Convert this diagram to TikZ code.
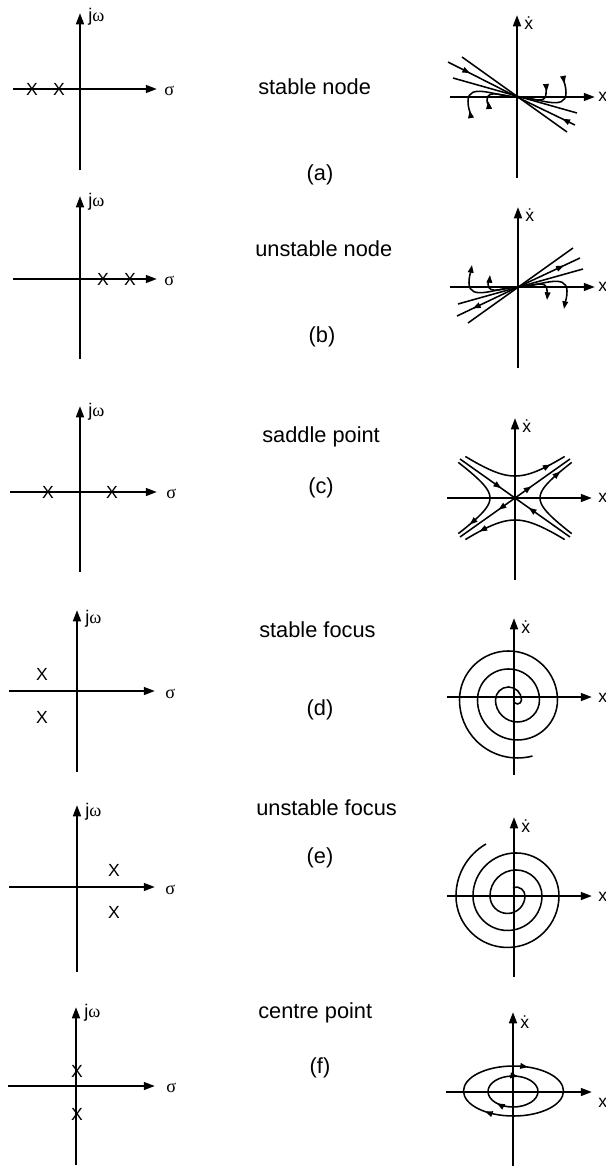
\documentclass[tikz,border=0pt]{standalone}
\usepackage{fontspec}
\setmainfont{Liberation Sans}
\newfontfamily\greekfont{Liberation Serif}
\usetikzlibrary{arrows.meta,decorations.markings}
\newcommand{\jw}{j{\greekfont ω}}
\newcommand{\sg}{{\greekfont σ}}
\tikzset{
  axisline/.style={line width=1.6pt,-{Triangle[length=8pt,width=5.5pt]}},
  traj/.style={line width=1.1pt},
  outtip/.style={-{Triangle[length=5.5pt,width=4pt]}},
  intip/.style={{Triangle[reversed,length=5.5pt,width=4pt]}-},
  flow/.style={postaction={decorate,decoration={markings,mark=at position #1 with {\arrow{Triangle[length=5.5pt,width=4pt]}}}}},
  title/.style={anchor=west,inner sep=0pt,font=\fontsize{15.5}{18}\selectfont},
  sublabel/.style={inner sep=0pt,font=\fontsize{15.5}{18}\selectfont},
  axlabel/.style={anchor=west,inner sep=0pt,font=\fontsize{13}{15}\selectfont},
  pole/.style={inner sep=0pt,font=\fontsize{12.5}{14}\selectfont},
}

\begin{document}
\begin{tikzpicture}[x=0.025cm,y=0.025cm]
\useasboundingbox (0,0) rectangle (606,-1166);

% titles and sub-figure letters
\node[title] (titleA) at (258,-87) {stable node};
\node[sublabel] (labA) at (320,-175) {(a)};
\node[title] (titleB) at (255,-249) {unstable node};
\node[sublabel] (labB) at (322,-337) {(b)};
\node[title] (titleC) at (262,-437) {saddle point};
\node[sublabel] (labC) at (321,-488) {(c)};
\node[title] (titleD) at (259,-630) {stable focus};
\node[sublabel] (labD) at (320,-710) {(d)};
\node[title] (titleE) at (256,-808) {unstable focus};
\node[sublabel] (labE) at (320,-858) {(e)};
\node[title] (titleF) at (258,-1013) {centre point};
\node[sublabel] (labF) at (320,-1068) {(f)};

% (a) s-plane
\begin{scope}[shift={(80,-89)}]
\draw[axisline] (-67,0) -- (77,0);
\draw[axisline] (0,-81) -- (0,76);
\node[axlabel] (jwA) at (8,72) {\jw};
\node[axlabel] (sgA) at (84,-2) {\sg};
\node[pole] (pA1) at (-48,0) {X};
\node[pole] (pA2) at (-21,0) {X};
\end{scope}
% (a) phase plane
\begin{scope}[shift={(517,-97)}]
\draw[axisline] (-67,0) -- (78,0);
\draw[axisline] (0,-81) -- (0,82);
\node[axlabel,font=\fontsize{12.5}{14}\selectfont] (xdA) at (7,74) {\.x};
\node[axlabel,font=\fontsize{12.5}{14}\selectfont] (xA) at (81,0) {x};
\draw[traj] (-55,40) -- (50,-35);
\draw[traj] (-64,19) -- (60,-16);
\draw[traj,flow=0.32] (-69,35) -- (0,0);
\draw[traj,flow=0.22] (58,-28) -- (0,0);
\draw[traj,intip] (46,21) to[out=-80,in=90] (49,4) to[out=-90,in=0] (0,0);
\draw[traj,intip] (29,13) to[out=-85,in=90] (29,3) to[out=-90,in=0] (0,0);
\draw[traj,intip] (-46,-21) to[out=100,in=-90] (-49,-4) to[out=90,in=180] (0,0);
\draw[traj,intip] (-28,-12) to[out=95,in=-90] (-30,-3) to[out=90,in=180] (0,0);
\end{scope}

% (b) s-plane
\begin{scope}[shift={(80,-279)}]
\draw[axisline] (-67,0) -- (77,0);
\draw[axisline] (0,-80) -- (0,83);
\node[axlabel] (jwB) at (8,77) {\jw};
\node[axlabel] (sgB) at (84,-2) {\sg};
\node[pole] (pB1) at (23,0) {X};
\node[pole] (pB2) at (50,0) {X};
\end{scope}
% (b) phase plane
\begin{scope}[shift={(518,-287)}]
\draw[axisline] (-68,0) -- (77,0);
\draw[axisline] (0,-81) -- (0,80);
\node[axlabel,font=\fontsize{12.5}{14}\selectfont] (xdB) at (7,72) {\.x};
\node[axlabel,font=\fontsize{12.5}{14}\selectfont] (xB) at (80,0) {x};
\draw[traj] (-50,-36) -- (55,39);
\draw[traj] (-60,-17) -- (65,18);
\draw[traj,flow=0.74] (0,0) -- (62,29);
\draw[traj,flow=0.74] (0,0) -- (-61,-29);
\draw[traj,outtip] (0,0) to[out=0,in=90] (49,-4) to[out=-90,in=80] (46,-22);
\draw[traj,outtip] (0,0) to[out=0,in=90] (29,-3) to[out=-90,in=85] (29,-13);
\draw[traj,outtip] (0,0) to[out=180,in=-90] (-49,4) to[out=90,in=-100] (-46,22);
\draw[traj,outtip] (0,0) to[out=180,in=-90] (-30,3) to[out=90,in=-95] (-28,12);
\end{scope}

% (c) s-plane
\begin{scope}[shift={(80,-492)}]
\draw[axisline] (-70,0) -- (77,0);
\draw[axisline] (0,-80) -- (0,86);
\node[axlabel] (jwC) at (8,80) {\jw};
\node[axlabel] (sgC) at (86,-2) {\sg};
\node[pole] (pC1) at (-32,0) {X};
\node[pole] (pC2) at (32,0) {X};
\end{scope}
% (c) phase plane
\begin{scope}[shift={(515,-498)}]
\draw[axisline] (-68,0) -- (77,0);
\draw[axisline] (0,-82) -- (0,80);
\node[axlabel,font=\fontsize{12.5}{14}\selectfont] (xdC) at (7,72) {\.x};
\node[axlabel,font=\fontsize{12.5}{14}\selectfont] (xC) at (83,0) {x};
\draw[traj,flow=0.75] (-55,39) -- (0,0);
\draw[traj,flow=0.75] (55,-39) -- (0,0);
\draw[traj,flow=0.3] (0,0) -- (55,39);
\draw[traj,flow=0.3] (0,0) -- (-55,-39);
\draw[traj,flow=0.85] plot[domain=-1.25:1.25,samples=40] ({31*sinh(\x)},{22*cosh(\x)});
\draw[traj,flow=0.85] plot[domain=1.25:-1.25,samples=40] ({31*sinh(\x)},{-22*cosh(\x)});
\draw[traj,flow=0.85] plot[domain=-1.46:1.46,samples=40] ({25*cosh(\x)},{17.5*sinh(\x)});
\draw[traj,flow=0.85] plot[domain=1.46:-1.46,samples=40] ({-25*cosh(\x)},{17.5*sinh(\x)});
\end{scope}

% (d) s-plane
\begin{scope}[shift={(77,-691)}]
\draw[axisline] (-68,0) -- (78,0);
\draw[axisline] (0,-81) -- (0,81);
\node[axlabel] (jwD) at (8,72) {\jw};
\node[axlabel] (sgD) at (88,-3) {\sg};
\node[pole] (pD1) at (-35,17) {X};
\node[pole] (pD2) at (-35,-26) {X};
\end{scope}
% (d) phase plane
\begin{scope}[shift={(514,-697)}]
\draw[axisline] (-67,0) -- (78,0);
\draw[axisline] (0,-78) -- (0,79);
\node[axlabel,font=\fontsize{12.5}{14}\selectfont] (xdD) at (7,70) {\.x};
\node[axlabel,font=\fontsize{12.5}{14}\selectfont] (xD) at (84,-1) {x};
\draw[traj] (18.5,-59) arc[start angle=-75,end angle=-180,radius=58]
  arc[start angle=180,end angle=0,radius=49]
  arc[start angle=0,end angle=-180,radius=40]
  arc[start angle=180,end angle=0,radius=31]
  arc[start angle=0,end angle=-180,radius=22]
  arc[start angle=180,end angle=0,radius=13]
  arc[start angle=0,end angle=-180,radius=4];
\end{scope}

% (e) s-plane
\begin{scope}[shift={(77,-887)}]
\draw[axisline] (-68,0) -- (78,0);
\draw[axisline] (0,-85) -- (0,82);
\node[axlabel] (jwE) at (8,75) {\jw};
\node[axlabel] (sgE) at (88,-3) {\sg};
\node[pole] (pE1) at (37,17) {X};
\node[pole] (pE2) at (37,-25) {X};
\end{scope}
% (e) phase plane
\begin{scope}[shift={(514,-896)}]
\draw[axisline] (-67,0) -- (78,0);
\draw[axisline] (0,-81) -- (0,79);
\node[axlabel,font=\fontsize{12.5}{14}\selectfont] (xdE) at (7,70) {\.x};
\node[axlabel,font=\fontsize{12.5}{14}\selectfont] (xE) at (84,-1) {x};
\draw[traj] (-1.1,8.5) arc[start angle=110,end angle=0,radius=9]
  arc[start angle=0,end angle=-180,radius=17.5]
  arc[start angle=180,end angle=0,radius=26]
  arc[start angle=0,end angle=-180,radius=34.5]
  arc[start angle=180,end angle=0,radius=43]
  arc[start angle=0,end angle=-180,radius=51.5]
  arc[start angle=180,end angle=120,radius=60];
\end{scope}

% (f) s-plane
\begin{scope}[shift={(76,-1086)}]
\draw[axisline] (-68,0) -- (79,0);
\draw[axisline] (0,-79) -- (0,79);
\node[axlabel] (jwF) at (8,73) {\jw};
\node[axlabel] (sgF) at (90,-2) {\sg};
\node[pole] (pF1) at (1,15) {X};
\node[pole] (pF2) at (1,-28) {X};
\end{scope}
% (f) phase plane
\begin{scope}[shift={(513,-1092)}]
\draw[axisline] (-67,0) -- (79,0);
\draw[axisline] (0,-74) -- (0,80);
\node[axlabel,font=\fontsize{12.5}{14}\selectfont] (xdF) at (7,70) {\.x};
\node[axlabel,font=\fontsize{12.5}{14}\selectfont] (xF) at (85,-11) {x};
\draw[traj,flow=0.31,flow=0.87] (-49.5,1) arc[start angle=180,end angle=-180,x radius=50,y radius=25];
\draw[traj,flow=0.29,flow=0.88] (-25,0.5) arc[start angle=180,end angle=-180,x radius=25,y radius=15.5];
\end{scope}
\end{tikzpicture}
\end{document}
